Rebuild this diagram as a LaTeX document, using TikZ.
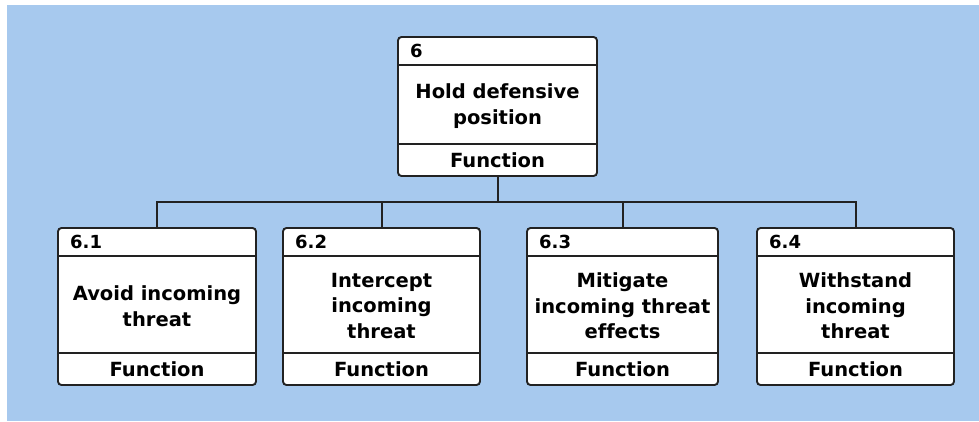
\documentclass[tikz,border=0pt]{standalone}
\usepackage{fontspec}
\setmainfont{DejaVu Sans}[Ligatures=NoCommon]
\definecolor{bg}{HTML}{A7C9EE}
\definecolor{ln}{HTML}{222222}
\tikzset{
  fbox/.style={draw=ln, line width=1.9pt, fill=white, rounded corners=3.5pt, inner sep=0pt, rectangle},
  num/.style={anchor=base west, font=\bfseries\fontsize{18}{20}\selectfont, inner sep=0pt},
  body/.style={align=center, font=\bfseries\fontsize{19.5}{25.5}\selectfont, inner sep=0pt},
  foot/.style={font=\bfseries\fontsize{19.5}{22}\selectfont, inner sep=0pt},
  divider/.style={draw=ln, line width=1.9pt},
  wire/.style={draw=ln, line width=2pt},
}
% name, left, right, top, bottom, divider1, divider2, number, text
\newcommand\funcbox[9]{%
  \node[fbox, minimum width={(#3-#2)*1pt}, minimum height={(#5-#4)*1pt}] (#1) at ({(#2+#3)/2},{(#4+#5)/2}) {};
  \draw[divider] (#2,#6) -- (#3,#6);
  \draw[divider] (#2,#7) -- (#3,#7);
  \node[num] (#1n) at (#2+12,#4+20.5) {#8};
  \node[body] (#1t) at ({(#2+#3)/2},{(#6+#7)/2+1.5}) {#9};
  \node[foot] (#1f) at ({(#2+#3)/2},{(#7+#5)/2+0.5}) {Function};
}
\begin{document}
\begin{tikzpicture}[x=1pt,y=-1pt]
  \useasboundingbox (0,0) rectangle (979,421);
  \fill[white] (0,0) rectangle (979,421);
  \fill[bg] (7,5) rectangle (979,421);
  \coordinate (bus) at (0,202);
  \funcbox{a}{398}{597}{37}{176}{65}{144}{6}{Hold defensive\\position}
  \funcbox{b}{58}{256}{228}{385}{256}{353}{6.1}{Avoid incoming\\threat}
  \funcbox{c}{283}{480}{228}{385}{256}{353}{6.2}{Intercept\\incoming\\threat}
  \funcbox{d}{527}{718}{228}{385}{256}{353}{6.3}{Mitigate\\incoming threat\\effects}
  \funcbox{e}{757}{954}{228}{385}{256}{353}{6.4}{Withstand\\incoming\\threat}
  \draw[wire] (a.south) -- (a.south |- bus);
  \draw[wire] (b.north) -- (b.north |- bus) -- (e.north |- bus) -- (e.north);
  \draw[wire] (c.north) -- (c.north |- bus);
  \draw[wire] (d.north) -- (d.north |- bus);
\end{tikzpicture}
\end{document}
